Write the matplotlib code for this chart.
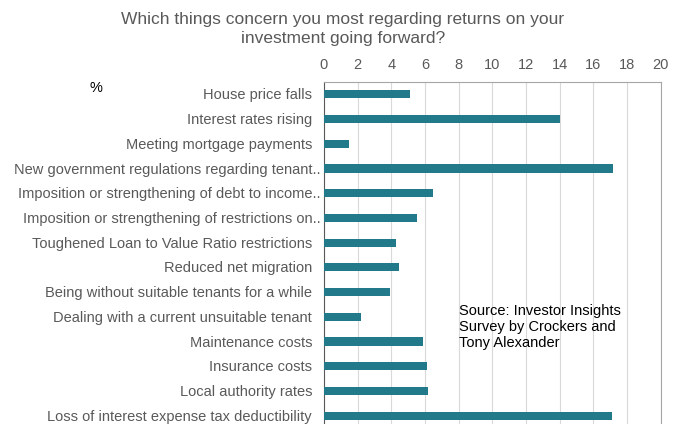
import matplotlib
matplotlib.use("Agg")
import matplotlib.pyplot as plt
from matplotlib.transforms import blended_transform_factory, ScaledTranslation

categories = [
    "House price falls",
    "Interest rates rising",
    "Meeting mortgage payments",
    "New government regulations regarding tenant..",
    "Imposition or strengthening of debt to income..",
    "Imposition or strengthening of restrictions on..",
    "Toughened Loan to Value Ratio restrictions",
    "Reduced net migration",
    "Being without suitable tenants for a while",
    "Dealing with a current unsuitable tenant",
    "Maintenance costs",
    "Insurance costs",
    "Local authority rates",
    "Loss of interest expense tax deductibility",
]
values = [5.1, 14.0, 1.5, 17.15, 6.5, 5.55, 4.3, 4.45, 3.9, 2.2, 5.9, 6.15, 6.2, 17.1]
xticks = [0, 2, 4, 6, 8, 10, 12, 14, 16, 18, 20]

plt.rcParams['font.family'] = ['Liberation Sans', 'DejaVu Sans']

W, H = 686, 424
fig = plt.figure(figsize=(W / 100, H / 100), dpi=100)
left, right = 324 / W, 660.5 / W
top = 1 - 82 / H
bottom = 1 - 428 / H
ax = fig.add_axes([left, bottom, right - left, top - bottom])

n = len(categories)
pos = list(range(n))
ax.barh(pos, values, height=0.33, color='#22798A', zorder=3)
ax.set_ylim(n - 0.5, -0.5)
ax.set_xlim(0, 20)
ax.set_xticks(xticks)
ax.xaxis.tick_top()
ax.tick_params(axis='x', length=0, labelsize=10.5, colors='#595959', pad=7.5)
ax.set_yticks(pos)
ax.set_yticklabels([])
ax.tick_params(axis='y', length=0)
ax.grid(axis='x', color='#D9D9D9', linewidth=0.8, zorder=0)
for s in ['top', 'right']:
    ax.spines[s].set_color('#A6A6A6')
    ax.spines[s].set_linewidth(0.8)
ax.spines['left'].set_color('#595959')
ax.spines['left'].set_linewidth(0.8)
ax.spines['bottom'].set_visible(False)

trans = blended_transform_factory(ax.transAxes, ax.transData)
for i, lab in enumerate(categories):
    off = -3 if lab.endswith('..') else -12
    t = trans + ScaledTranslation(off / 100, -1 / 100, fig.dpi_scale_trans)
    ax.text(0, i, lab, transform=t, ha='right', va='center',
            fontsize=10.5, color='#595959', clip_on=False)

fig.text(343 / W, 1 - 29 / H,
         "Which things concern you most regarding returns on your\ninvestment going forward?",
         ha='center', va='center', fontsize=12.5, color='#595959', linespacing=1.32)
fig.text(96 / W, 1 - 88 / H, "%", ha='center', va='center', fontsize=10.5, color='#000000')
fig.text(459 / W, 1 - 304 / H,
         "Source: Investor Insights\nSurvey by Crockers and\nTony Alexander",
         ha='left', va='top', fontsize=10.5, color='#000000', linespacing=1.17)

fig.savefig("out.png", dpi=100)
